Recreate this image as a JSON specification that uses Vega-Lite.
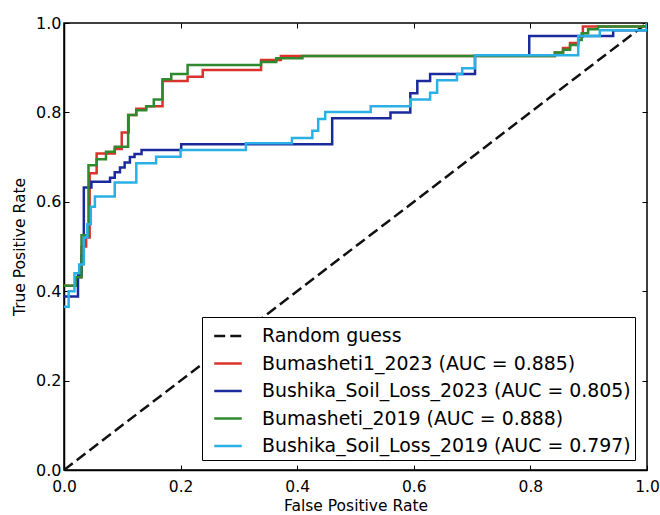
{
  "$schema": "https://vega.github.io/schema/vega-lite/v6.json",
  "width": 583,
  "height": 447,
  "autosize": {"type": "none"},
  "padding": {"left": 64, "top": 23, "right": 13, "bottom": 45},
  "background": "white",
  "config": {
    "font": "DejaVu Sans",
    "view": {"stroke": "black", "strokeWidth": 1.5},
    "axis": {
      "grid": false,
      "domainColor": "black",
      "domainWidth": 1.5,
      "tickColor": "black",
      "tickSize": -5,
      "tickWidth": 1,
      "labelFlush": false,
      "labelColor": "black",
      "labelFontSize": 15.5,
      "labelFont": "DejaVu Sans",
      "titleFont": "DejaVu Sans",
      "titleFontSize": 15.5,
      "titleFontWeight": "normal",
      "titleColor": "black"
    }
  },
  "datasets": {
    "diag": [
      {"series": "Random guess", "fpr": 0, "tpr": 0},
      {"series": "Random guess", "fpr": 1, "tpr": 1}
    ],
    "roc": [
      {"series": "Bumasheti1_2023 (AUC = 0.885)", "fpr": 0, "tpr": 0.412},
      {"series": "Bumasheti1_2023 (AUC = 0.885)", "fpr": 0.020, "tpr": 0.431},
      {"series": "Bumasheti1_2023 (AUC = 0.885)", "fpr": 0.030, "tpr": 0.500},
      {"series": "Bumasheti1_2023 (AUC = 0.885)", "fpr": 0.038, "tpr": 0.520},
      {"series": "Bumasheti1_2023 (AUC = 0.885)", "fpr": 0.044, "tpr": 0.664},
      {"series": "Bumasheti1_2023 (AUC = 0.885)", "fpr": 0.056, "tpr": 0.708},
      {"series": "Bumasheti1_2023 (AUC = 0.885)", "fpr": 0.087, "tpr": 0.718},
      {"series": "Bumasheti1_2023 (AUC = 0.885)", "fpr": 0.099, "tpr": 0.755},
      {"series": "Bumasheti1_2023 (AUC = 0.885)", "fpr": 0.111, "tpr": 0.794},
      {"series": "Bumasheti1_2023 (AUC = 0.885)", "fpr": 0.124, "tpr": 0.808},
      {"series": "Bumasheti1_2023 (AUC = 0.885)", "fpr": 0.141, "tpr": 0.814},
      {"series": "Bumasheti1_2023 (AUC = 0.885)", "fpr": 0.169, "tpr": 0.870},
      {"series": "Bumasheti1_2023 (AUC = 0.885)", "fpr": 0.212, "tpr": 0.880},
      {"series": "Bumasheti1_2023 (AUC = 0.885)", "fpr": 0.238, "tpr": 0.895},
      {"series": "Bumasheti1_2023 (AUC = 0.885)", "fpr": 0.338, "tpr": 0.917},
      {"series": "Bumasheti1_2023 (AUC = 0.885)", "fpr": 0.372, "tpr": 0.926},
      {"series": "Bumasheti1_2023 (AUC = 0.885)", "fpr": 0.842, "tpr": 0.934},
      {"series": "Bumasheti1_2023 (AUC = 0.885)", "fpr": 0.856, "tpr": 0.944},
      {"series": "Bumasheti1_2023 (AUC = 0.885)", "fpr": 0.868, "tpr": 0.955},
      {"series": "Bumasheti1_2023 (AUC = 0.885)", "fpr": 0.882, "tpr": 0.970},
      {"series": "Bumasheti1_2023 (AUC = 0.885)", "fpr": 0.890, "tpr": 0.992},
      {"series": "Bumasheti1_2023 (AUC = 0.885)", "fpr": 1.0, "tpr": 1.0},

      {"series": "Bushika_Soil_Loss_2023 (AUC = 0.805)", "fpr": 0, "tpr": 0.388},
      {"series": "Bushika_Soil_Loss_2023 (AUC = 0.805)", "fpr": 0.024, "tpr": 0.436},
      {"series": "Bushika_Soil_Loss_2023 (AUC = 0.805)", "fpr": 0.030, "tpr": 0.480},
      {"series": "Bushika_Soil_Loss_2023 (AUC = 0.805)", "fpr": 0.034, "tpr": 0.632},
      {"series": "Bushika_Soil_Loss_2023 (AUC = 0.805)", "fpr": 0.047, "tpr": 0.645},
      {"series": "Bushika_Soil_Loss_2023 (AUC = 0.805)", "fpr": 0.079, "tpr": 0.654},
      {"series": "Bushika_Soil_Loss_2023 (AUC = 0.805)", "fpr": 0.087, "tpr": 0.666},
      {"series": "Bushika_Soil_Loss_2023 (AUC = 0.805)", "fpr": 0.096, "tpr": 0.677},
      {"series": "Bushika_Soil_Loss_2023 (AUC = 0.805)", "fpr": 0.104, "tpr": 0.688},
      {"series": "Bushika_Soil_Loss_2023 (AUC = 0.805)", "fpr": 0.113, "tpr": 0.700},
      {"series": "Bushika_Soil_Loss_2023 (AUC = 0.805)", "fpr": 0.121, "tpr": 0.707},
      {"series": "Bushika_Soil_Loss_2023 (AUC = 0.805)", "fpr": 0.133, "tpr": 0.716},
      {"series": "Bushika_Soil_Loss_2023 (AUC = 0.805)", "fpr": 0.201, "tpr": 0.729},
      {"series": "Bushika_Soil_Loss_2023 (AUC = 0.805)", "fpr": 0.460, "tpr": 0.787},
      {"series": "Bushika_Soil_Loss_2023 (AUC = 0.805)", "fpr": 0.560, "tpr": 0.800},
      {"series": "Bushika_Soil_Loss_2023 (AUC = 0.805)", "fpr": 0.594, "tpr": 0.843},
      {"series": "Bushika_Soil_Loss_2023 (AUC = 0.805)", "fpr": 0.606, "tpr": 0.870},
      {"series": "Bushika_Soil_Loss_2023 (AUC = 0.805)", "fpr": 0.628, "tpr": 0.886},
      {"series": "Bushika_Soil_Loss_2023 (AUC = 0.805)", "fpr": 0.705, "tpr": 0.928},
      {"series": "Bushika_Soil_Loss_2023 (AUC = 0.805)", "fpr": 0.798, "tpr": 0.971},
      {"series": "Bushika_Soil_Loss_2023 (AUC = 0.805)", "fpr": 0.942, "tpr": 0.984},
      {"series": "Bushika_Soil_Loss_2023 (AUC = 0.805)", "fpr": 1.0, "tpr": 1.0},

      {"series": "Bumasheti_2019 (AUC = 0.888)", "fpr": 0, "tpr": 0.412},
      {"series": "Bumasheti_2019 (AUC = 0.888)", "fpr": 0.020, "tpr": 0.431},
      {"series": "Bumasheti_2019 (AUC = 0.888)", "fpr": 0.030, "tpr": 0.525},
      {"series": "Bumasheti_2019 (AUC = 0.888)", "fpr": 0.042, "tpr": 0.682},
      {"series": "Bumasheti_2019 (AUC = 0.888)", "fpr": 0.056, "tpr": 0.695},
      {"series": "Bumasheti_2019 (AUC = 0.888)", "fpr": 0.072, "tpr": 0.712},
      {"series": "Bumasheti_2019 (AUC = 0.888)", "fpr": 0.087, "tpr": 0.723},
      {"series": "Bumasheti_2019 (AUC = 0.888)", "fpr": 0.110, "tpr": 0.794},
      {"series": "Bumasheti_2019 (AUC = 0.888)", "fpr": 0.124, "tpr": 0.805},
      {"series": "Bumasheti_2019 (AUC = 0.888)", "fpr": 0.141, "tpr": 0.814},
      {"series": "Bumasheti_2019 (AUC = 0.888)", "fpr": 0.154, "tpr": 0.829},
      {"series": "Bumasheti_2019 (AUC = 0.888)", "fpr": 0.169, "tpr": 0.874},
      {"series": "Bumasheti_2019 (AUC = 0.888)", "fpr": 0.184, "tpr": 0.886},
      {"series": "Bumasheti_2019 (AUC = 0.888)", "fpr": 0.212, "tpr": 0.906},
      {"series": "Bumasheti_2019 (AUC = 0.888)", "fpr": 0.338, "tpr": 0.913},
      {"series": "Bumasheti_2019 (AUC = 0.888)", "fpr": 0.364, "tpr": 0.921},
      {"series": "Bumasheti_2019 (AUC = 0.888)", "fpr": 0.409, "tpr": 0.926},
      {"series": "Bumasheti_2019 (AUC = 0.888)", "fpr": 0.842, "tpr": 0.934},
      {"series": "Bumasheti_2019 (AUC = 0.888)", "fpr": 0.856, "tpr": 0.940},
      {"series": "Bumasheti_2019 (AUC = 0.888)", "fpr": 0.868, "tpr": 0.951},
      {"series": "Bumasheti_2019 (AUC = 0.888)", "fpr": 0.882, "tpr": 0.962},
      {"series": "Bumasheti_2019 (AUC = 0.888)", "fpr": 0.888, "tpr": 0.977},
      {"series": "Bumasheti_2019 (AUC = 0.888)", "fpr": 0.899, "tpr": 0.986},
      {"series": "Bumasheti_2019 (AUC = 0.888)", "fpr": 0.916, "tpr": 0.992},
      {"series": "Bumasheti_2019 (AUC = 0.888)", "fpr": 1.0, "tpr": 1.0},

      {"series": "Bushika_Soil_Loss_2019 (AUC = 0.797)", "fpr": 0, "tpr": 0.365},
      {"series": "Bushika_Soil_Loss_2019 (AUC = 0.797)", "fpr": 0.008, "tpr": 0.400},
      {"series": "Bushika_Soil_Loss_2019 (AUC = 0.797)", "fpr": 0.018, "tpr": 0.440},
      {"series": "Bushika_Soil_Loss_2019 (AUC = 0.797)", "fpr": 0.026, "tpr": 0.460},
      {"series": "Bushika_Soil_Loss_2019 (AUC = 0.797)", "fpr": 0.034, "tpr": 0.520},
      {"series": "Bushika_Soil_Loss_2019 (AUC = 0.797)", "fpr": 0.040, "tpr": 0.550},
      {"series": "Bushika_Soil_Loss_2019 (AUC = 0.797)", "fpr": 0.046, "tpr": 0.589},
      {"series": "Bushika_Soil_Loss_2019 (AUC = 0.797)", "fpr": 0.053, "tpr": 0.612},
      {"series": "Bushika_Soil_Loss_2019 (AUC = 0.797)", "fpr": 0.087, "tpr": 0.643},
      {"series": "Bushika_Soil_Loss_2019 (AUC = 0.797)", "fpr": 0.124, "tpr": 0.686},
      {"series": "Bushika_Soil_Loss_2019 (AUC = 0.797)", "fpr": 0.158, "tpr": 0.701},
      {"series": "Bushika_Soil_Loss_2019 (AUC = 0.797)", "fpr": 0.200, "tpr": 0.716},
      {"series": "Bushika_Soil_Loss_2019 (AUC = 0.797)", "fpr": 0.312, "tpr": 0.731},
      {"series": "Bushika_Soil_Loss_2019 (AUC = 0.797)", "fpr": 0.391, "tpr": 0.743},
      {"series": "Bushika_Soil_Loss_2019 (AUC = 0.797)", "fpr": 0.426, "tpr": 0.759},
      {"series": "Bushika_Soil_Loss_2019 (AUC = 0.797)", "fpr": 0.436, "tpr": 0.785},
      {"series": "Bushika_Soil_Loss_2019 (AUC = 0.797)", "fpr": 0.448, "tpr": 0.801},
      {"series": "Bushika_Soil_Loss_2019 (AUC = 0.797)", "fpr": 0.526, "tpr": 0.814},
      {"series": "Bushika_Soil_Loss_2019 (AUC = 0.797)", "fpr": 0.594, "tpr": 0.829},
      {"series": "Bushika_Soil_Loss_2019 (AUC = 0.797)", "fpr": 0.628, "tpr": 0.844},
      {"series": "Bushika_Soil_Loss_2019 (AUC = 0.797)", "fpr": 0.640, "tpr": 0.872},
      {"series": "Bushika_Soil_Loss_2019 (AUC = 0.797)", "fpr": 0.674, "tpr": 0.886},
      {"series": "Bushika_Soil_Loss_2019 (AUC = 0.797)", "fpr": 0.683, "tpr": 0.899},
      {"series": "Bushika_Soil_Loss_2019 (AUC = 0.797)", "fpr": 0.705, "tpr": 0.928},
      {"series": "Bushika_Soil_Loss_2019 (AUC = 0.797)", "fpr": 0.882, "tpr": 0.971},
      {"series": "Bushika_Soil_Loss_2019 (AUC = 0.797)", "fpr": 0.919, "tpr": 0.984},
      {"series": "Bushika_Soil_Loss_2019 (AUC = 0.797)", "fpr": 1.0, "tpr": 1.0}
    ]
  },
  "layer": [
    {
      "data": {"name": "diag"},
      "mark": {"type": "line", "strokeWidth": 2.5, "clip": true},
      "encoding": {
        "x": {"field": "fpr", "type": "quantitative", "scale": {"domain": [0, 1], "nice": false, "zero": false},
              "axis": {"orient": "top", "labels": false, "title": null, "values": [0, 0.2, 0.4, 0.6, 0.8, 1.0], "domain": false}},
        "y": {"field": "tpr", "type": "quantitative", "scale": {"domain": [0, 1], "nice": false, "zero": false},
              "axis": {"orient": "right", "labels": false, "title": null, "values": [0, 0.2, 0.4, 0.6, 0.8, 1.0], "domain": false}},
        "color": {"field": "series", "type": "nominal"},
        "strokeDash": {"field": "series", "type": "nominal"}
      }
    },
    {
      "data": {"name": "roc"},
      "mark": {"type": "line", "strokeWidth": 2.5, "interpolate": "step-after", "clip": true},
      "encoding": {
        "x": {"field": "fpr", "type": "quantitative",
              "axis": {"orient": "bottom", "title": "False Positive Rate", "values": [0, 0.2, 0.4, 0.6, 0.8, 1.0], "format": ".1f", "labelPadding": 14, "titlePadding": 4}},
        "y": {"field": "tpr", "type": "quantitative",
              "axis": {"orient": "left", "title": "True Positive Rate", "values": [0, 0.2, 0.4, 0.6, 0.8, 1.0], "format": ".1f", "labelPadding": 8, "titlePadding": 8, "labelFontSize": 16}},
        "color": {
          "field": "series", "type": "nominal",
          "scale": {
            "domain": ["Random guess", "Bumasheti1_2023 (AUC = 0.885)", "Bushika_Soil_Loss_2023 (AUC = 0.805)", "Bumasheti_2019 (AUC = 0.888)", "Bushika_Soil_Loss_2019 (AUC = 0.797)"],
            "range": ["#111111", "#d9332c", "#1a2a9c", "#2f8a2f", "#2bb0e6"]
          },
          "legend": {
            "title": null,
            "orient": "none",
            "legendX": 138,
            "legendY": 294,
            "labelFontSize": 18.9,
            "labelFont": "DejaVu Sans",
            "labelColor": "black",
            "labelLimit": 600,
            "symbolType": "stroke",
            "symbolSize": 756,
            "symbolStrokeWidth": 2.5,
            "symbolOffset": 7,
            "padding": 4,
            "rowPadding": 2.5,
            "labelOffset": 19,
            "strokeColor": "black",
            "fillColor": "white",
            "cornerRadius": 0
          }
        },
        "strokeDash": {
          "field": "series", "type": "nominal",
          "scale": {
            "domain": ["Random guess", "Bumasheti1_2023 (AUC = 0.885)", "Bushika_Soil_Loss_2023 (AUC = 0.805)", "Bumasheti_2019 (AUC = 0.888)", "Bushika_Soil_Loss_2019 (AUC = 0.797)"],
            "range": [[11, 5], [1, 0], [1, 0], [1, 0], [1, 0]]
          }
        }
      }
    }
  ],
  "resolve": {"axis": {"x": "independent", "y": "independent"}}
}
